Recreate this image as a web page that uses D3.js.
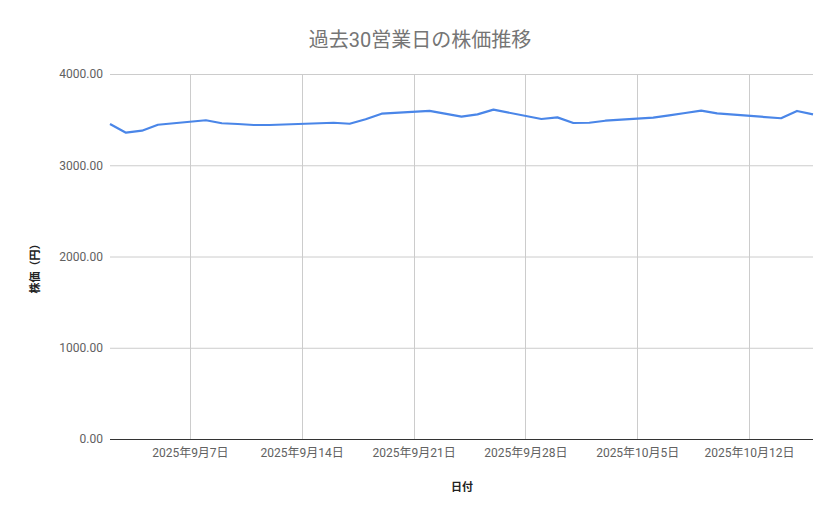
<!DOCTYPE html>
<html>
<head>
<meta charset="utf-8">
<script src="https://cdn.jsdelivr.net/npm/d3@7"></script>
<style>
  body { margin: 0; background: #fff; }
  svg text { font-family: Roboto, "Noto Sans CJK JP", sans-serif; }
</style>
</head>
<body>
<svg id="chart" width="839" height="519"></svg>
<script>
// data (30 business days, JP holidays skipped)
const dates = [
  '2025-09-02', '2025-09-03', '2025-09-04', '2025-09-05',
  '2025-09-08', '2025-09-09', '2025-09-10', '2025-09-11', '2025-09-12',
  '2025-09-16', '2025-09-17', '2025-09-18', '2025-09-19',
  '2025-09-22', '2025-09-24', '2025-09-25', '2025-09-26',
  '2025-09-29', '2025-09-30', '2025-10-01', '2025-10-02', '2025-10-03',
  '2025-10-06', '2025-10-07', '2025-10-08', '2025-10-09', '2025-10-10',
  '2025-10-14', '2025-10-15', '2025-10-16'
];
const prices = [
  3452, 3357, 3379, 3444,
  3493, 3460, 3452, 3441, 3441,
  3466, 3455, 3504, 3565,
  3595, 3532, 3558, 3609,
  3507, 3525, 3463, 3466, 3488,
  3521, 3547, 3573, 3598, 3569,
  3515, 3595, 3558
];
const yTicks = [0, 1000, 2000, 3000, 4000];
const xTicks = ['2025-09-07', '2025-09-14', '2025-09-21', '2025-09-28', '2025-10-05', '2025-10-12'];

const title = '過去30営業日の株価推移';
const xTitle = '日付';
const yTitle = '株価（円）';

const width = 839;
const height = 519;
const margin = { top: 74, right: 26, bottom: 80, left: 110 };

const parse = d3.timeParse('%Y-%m-%d');
const data = dates.map((d, i) => ({ date: parse(d), price: prices[i] }));

const svg = d3.select('#chart');

const xScale = d3.scaleTime()
  .domain(d3.extent(data, (d) => d.date))
  .range([margin.left, width - margin.right]);

const yScale = d3.scaleLinear()
  .domain([0, 4000])
  .range([height - margin.bottom, margin.top]);

// horizontal grid
svg.append('g')
  .selectAll('line')
  .data(yTicks.filter((t) => t > 0))
  .join('line')
  .attr('x1', margin.left)
  .attr('x2', width - margin.right)
  .attr('y1', (d) => yScale(d) + 0.5)
  .attr('y2', (d) => yScale(d) + 0.5)
  .attr('stroke', '#cccccc');

// vertical grid
svg.append('g')
  .selectAll('line')
  .data(xTicks.map(parse))
  .join('line')
  .attr('x1', (d) => Math.round(xScale(d)) + 0.5)
  .attr('x2', (d) => Math.round(xScale(d)) + 0.5)
  .attr('y1', margin.top)
  .attr('y2', height - margin.bottom)
  .attr('stroke', '#cccccc');

// y axis labels
const yAxis = d3.axisLeft(yScale)
  .tickValues(yTicks)
  .tickFormat(d3.format('.2f'))
  .tickSize(0)
  .tickPadding(7);

svg.append('g')
  .attr('transform', `translate(${margin.left},0)`)
  .call(yAxis)
  .call((g) => g.select('.domain').remove())
  .call((g) => g.selectAll('text')
    .attr('fill', '#616161')
    .attr('font-size', 12)
    .style('font-family', 'Roboto, "Noto Sans CJK JP", sans-serif'));

// x axis labels
const xAxis = d3.axisBottom(xScale)
  .tickValues(xTicks.map(parse))
  .tickFormat((d) => `${d.getFullYear()}年${d.getMonth() + 1}月${d.getDate()}日`)
  .tickSize(0)
  .tickPadding(9);

svg.append('g')
  .attr('transform', `translate(0,${height - margin.bottom})`)
  .call(xAxis)
  .call((g) => g.select('.domain').remove())
  .call((g) => g.selectAll('text')
    .attr('fill', '#616161')
    .attr('font-size', 12)
    .style('font-family', 'Roboto, "Noto Sans CJK JP", sans-serif'));

// baseline
svg.append('line')
  .attr('x1', margin.left)
  .attr('x2', width - margin.right)
  .attr('y1', yScale(0) + 0.5)
  .attr('y2', yScale(0) + 0.5)
  .attr('stroke', '#333333');

// price line
const line = d3.line()
  .x((d) => xScale(d.date))
  .y((d) => yScale(d.price));

svg.append('path')
  .datum(data)
  .attr('d', line)
  .attr('fill', 'none')
  .attr('stroke', '#4a86e8')
  .attr('stroke-width', 2.2)
  .attr('stroke-linejoin', 'round');

// titles
svg.append('text')
  .attr('x', 420)
  .attr('y', 47)
  .attr('text-anchor', 'middle')
  .attr('font-size', 20)
  .attr('fill', '#757575')
  .text(title);

svg.append('text')
  .attr('x', 462)
  .attr('y', 491)
  .attr('text-anchor', 'middle')
  .attr('font-size', 11)
  .attr('font-weight', 'bold')
  .attr('fill', '#222222')
  .text(xTitle);

svg.append('text')
  .attr('transform', 'translate(39,266) rotate(-90)')
  .attr('text-anchor', 'middle')
  .attr('font-size', 11)
  .attr('font-weight', 'bold')
  .attr('fill', '#222222')
  .text(yTitle);
</script>
</body>
</html>
